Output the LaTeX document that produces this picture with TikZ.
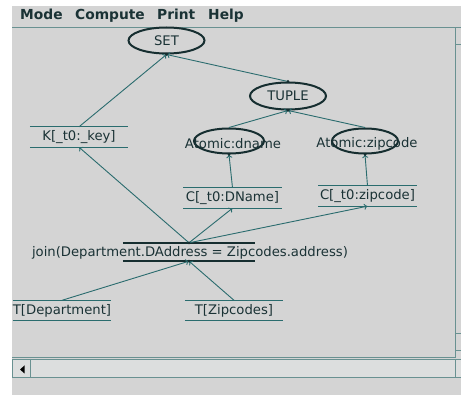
\documentclass[tikz,border=0pt]{standalone}
\usepackage{fontspec}
\setmainfont{DejaVu Sans}
\usetikzlibrary{shapes.geometric,arrows.meta}
\definecolor{canvas}{RGB}{212,212,212}
\definecolor{ink}{RGB}{26,50,53}
\definecolor{wire}{RGB}{42,108,110}
\definecolor{rim}{RGB}{22,46,48}
\definecolor{frame}{RGB}{105,145,145}
\definecolor{track}{RGB}{220,222,222}

\begin{document}
\begin{tikzpicture}[x=1pt,y=-1pt,
  lbl/.style={font=\fontsize{13.2}{15}\selectfont, text=ink, inner sep=0pt},
  menu/.style={font=\fontsize{13.8}{15}\selectfont\bfseries, text=ink, inner sep=0pt, anchor=base west},
  oval/.style={ellipse, draw=rim, line width=2pt, minimum width=76pt, minimum height=26pt, inner sep=0pt, lbl},
  barline/.style={draw=wire, line width=1.2pt},
  bar/.style={rectangle, minimum width=98pt, minimum height=20pt, inner sep=0pt, lbl,
    append after command={(\tikzlastnode.north west) edge[barline] (\tikzlastnode.north east)
                          (\tikzlastnode.south west) edge[barline] (\tikzlastnode.south east)}},
  joinline/.style={draw=rim, line width=1.8pt},
  joinbar/.style={rectangle, minimum width=132pt, minimum height=18pt, inner sep=0pt,
    append after command={(\tikzlastnode.north west) edge[joinline] (\tikzlastnode.north east)
                          (\tikzlastnode.south west) edge[joinline] (\tikzlastnode.south east)}},
  link/.style={draw=wire, line width=0.9pt, -{To[length=3.5pt,width=6pt]}},
  tipdot/.style={fill=rim}
]
\useasboundingbox (0,0) rectangle (461,395);

% window frame
\fill[white] (0,0) rectangle (461,395);
\fill[canvas] (12,6) rectangle (461,395);

% menu bar
\node[menu] (mmode) at (20,20) {Mode};
\node[menu] (mcompute) at (75,20) {Compute};
\node[menu] (mprint) at (157,20) {Print};
\node[menu] (mhelp) at (208,20) {Help};
\draw[frame, line width=0.8pt] (12,27.5) -- (461,27.5);

% drawing area border and scroll bars
\draw[frame, line width=0.8pt] (455,28) -- (455,357) -- (12,357);
\draw[frame, line width=0.6pt] (455,44) -- (461,44);
\draw[frame, line width=0.6pt] (455,333) -- (461,333) (455,350) -- (461,350);
\filldraw[fill=track, draw=frame, line width=0.8pt] (12,359) rectangle (461,377);
\draw[frame, line width=0.8pt] (30,359) -- (30,377) (455,359) -- (455,377);
\fill[black] (20,369.5) -- (24.5,365.5) -- (24.5,373.5) -- cycle;

% ellipse nodes
\node[oval] (set) at (166.5,40.5) {SET};
\node[oval, minimum height=27pt] (tuple) at (288,96) {TUPLE};
\node[oval, minimum width=70pt, minimum height=25pt] (dname) at (229,141) {};
\node[lbl] (dnametext) at (233,143.5) {Atomic:dname};
\node[oval, minimum width=66pt, minimum height=25pt] (zip) at (365,141) {};
\node[lbl] (ziptext) at (367,143.5) {Atomic:zipcode};

% barred nodes
\node[bar] (key) at (79,137) {K[\_t0:\_key]};
\node[bar] (cdname) at (232.5,198) {C[\_t0:DName]};
\node[bar] (czip) at (367.5,196) {C[\_t0:zipcode]};
\node[bar] (tdept) at (62,310.5) {T[Department]};
\node[bar] (tzip) at (234,310.5) {T[Zipcodes]};
\node[joinbar] (join) at (189,252) {};
\node[lbl] (jointext) at (190,253) {join(Department.DAddress = Zipcodes.address)};

% connectors
\draw[link] (key.north) -- (set.south);
\draw[link] (tuple.north) -- (set.south);
\draw[link] (dname.north) -- (tuple.south);
\draw[link] (zip.north) -- (tuple.south);
\draw[link] (cdname.north) -- (dname.south);
\draw[link] (czip.north) -- (zip.south);
\draw[link] (join.north) -- (key.south);
\draw[link] (join.north) -- (cdname.south);
\draw[link] (join.north) -- (czip.south);
\draw[link] (tdept.north) -- (join.south);
\draw[link] (tzip.north) -- (join.south);

% small dots where connectors meet their targets
\foreach \p in {set.south, tuple.south, tuple.north, dname.south, zip.south, join.north, join.south}
  \fill[tipdot] (\p) circle (1.5pt);
\end{tikzpicture}
\end{document}
